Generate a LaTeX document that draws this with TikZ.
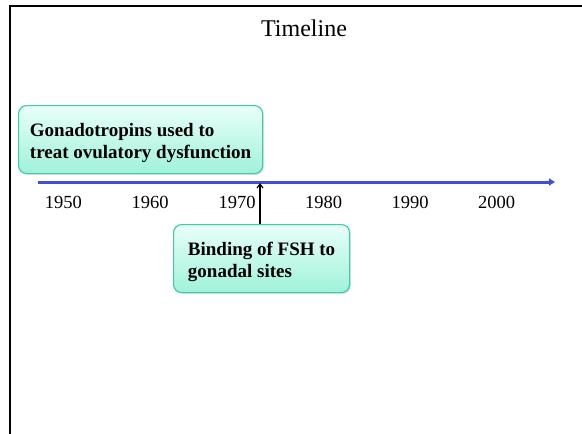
\documentclass[tikz,border=0pt]{standalone}
\usepackage{fontspec}
\setmainfont{Liberation Serif}
\usetikzlibrary{arrows.meta,shadows}
\definecolor{axisblue}{RGB}{66,80,208}
\definecolor{boxedge}{RGB}{60,206,172}
\definecolor{boxtop}{RGB}{232,255,248}
\definecolor{boxbot}{RGB}{160,242,218}
\tikzset{
  eventbox/.style={draw=boxedge, line width=1.2pt, rounded corners=8pt,
    top color=boxtop, bottom color=boxbot, align=left,
    inner xsep=10pt, inner ysep=0pt, anchor=north west,
    font=\fontsize{19}{22}\selectfont\bfseries,
    drop shadow={opacity=0.25, shadow xshift=1.2pt, shadow yshift=-1.2pt}},
  yearlbl/.style={anchor=base, inner sep=0pt, font=\fontsize{18.5}{22}\selectfont},
  axisline/.style={draw=axisblue, line width=3pt, -{Triangle[length=6pt,width=7pt]}},
  pointer/.style={draw=black, line width=1.2pt, -{Straight Barb[length=4pt,width=6pt]}},
}
\begin{document}
\begin{tikzpicture}[x=1pt,y=-1pt]
\useasboundingbox (0,0) rectangle (582,434);
\fill[white] (0,0) rectangle (582,434);
% frame
\draw[line width=2pt] (10,434) -- (10,5.5) -- (582,5.5);
% title
\node[anchor=base, font=\fontsize{24}{28}\selectfont, inner sep=0pt] (title) at (304,36) {Timeline};
% axis
\coordinate (a0) at (38,182);
\coordinate (a1) at (555,182);
\draw[axisline] (a0) -- (a1);
% years
\node[yearlbl] (y1950) at (63.5,208) {1950};
\node[yearlbl] (y1960) at (150,208) {1960};
\node[yearlbl] (y1970) at (237,208) {1970};
\node[yearlbl] (y1980) at (323.5,208) {1980};
\node[yearlbl] (y1990) at (410,208) {1990};
\node[yearlbl] (y2000) at (496.5,208) {2000};
% boxes
\node[eventbox, minimum width=244pt, minimum height=68pt] (gon) at (18,105)
  {\rule{0pt}{19pt}Gonadotropins used to\\treat ovulatory dysfunction};
\node[eventbox, minimum width=176pt, minimum height=68pt] (fsh) at (173,224)
  {\rule{0pt}{20pt}Binding of FSH to\\gonadal sites};
% pointer
\coordinate (p) at (260,183);
\draw[pointer] (fsh.north -| p) -- (p);
\end{tikzpicture}
\end{document}
